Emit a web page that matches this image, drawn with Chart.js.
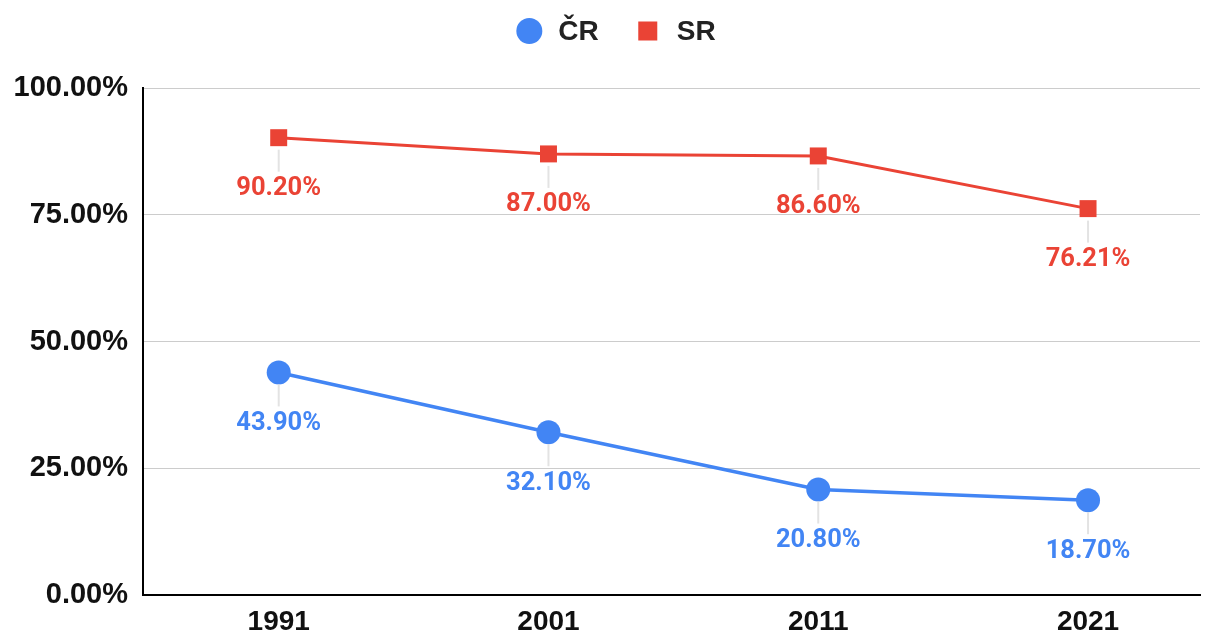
<!DOCTYPE html>
<html lang="en">
<head>
<meta charset="utf-8">
<title>ČR / SR</title>
<script src="https://cdn.jsdelivr.net/npm/chart.js@4.4.0/dist/chart.umd.min.js"></script>
<style>
  html, body { margin: 0; padding: 0; background: #fff; }
  #wrap { width: 1214px; height: 637px; }
</style>
</head>
<body>
<div id="wrap"><canvas id="chart"></canvas></div>
<script>
// data
const years = [1991, 2001, 2011, 2021];
const crValues = [43.9, 32.1, 20.8, 18.7];
const srValues = [90.2, 87.0, 86.6, 76.21];
const crLabels = ['43.90%', '32.10%', '20.80%', '18.70%'];
const srLabels = ['90.20%', '87.00%', '86.60%', '76.21%'];

const BLUE = '#4285F4';
const RED = '#EA4335';

// labels under each point with a short grey leader line
const pointLabels = {
  id: 'pointLabels',
  afterDatasetsDraw(chart) {
    const ctx = chart.ctx;
    chart.data.datasets.forEach((ds, i) => {
      const meta = chart.getDatasetMeta(i);
      meta.data.forEach((pt, j) => {
        const r = ds.pointRadius;
        ctx.save();
        ctx.strokeStyle = '#e3e3e3';
        ctx.lineWidth = 2;
        ctx.beginPath();
        ctx.moveTo(pt.x, pt.y + r);
        ctx.lineTo(pt.x, pt.y + 34);
        ctx.stroke();
        ctx.fillStyle = ds.borderColor;
        ctx.font = 'bold 25.5px Roboto';
        ctx.textAlign = 'center';
        ctx.textBaseline = 'middle';
        ctx.fillText(ds.valueLabels[j], pt.x, pt.y + 51);
        ctx.restore();
      });
    });
  }
};

// legend drawn by hand so the spacing can follow the original
const topLegend = {
  id: 'topLegend',
  afterDraw(chart) {
    const ctx = chart.ctx;
    const cy = 31;
    ctx.save();
    ctx.font = 'bold 28px "Liberation Sans", Arial, sans-serif';
    ctx.textBaseline = 'middle';
    const items = chart.data.datasets.map(ds => ({
      ds, w: 26 + 16 + ctx.measureText(ds.label).width
    }));
    const gap = 36;
    const total = items.reduce((s, it) => s + it.w, 0) + gap * (items.length - 1);
    let x = chart.width / 2 - total / 2 + 9;
    items.forEach(it => {
      const cx = x + 13;
      ctx.fillStyle = it.ds.backgroundColor;
      if (it.ds.pointStyle === 'circle') {
        ctx.beginPath();
        ctx.arc(cx, cy, 13, 0, Math.PI * 2);
        ctx.fill();
      } else {
        ctx.fillRect(cx - 9.5, cy - 9.5, 19, 19);
      }
      ctx.fillStyle = '#222';
      ctx.fillText(it.ds.label, x + 26 + 16, cy + 1);
      x += it.w + gap;
    });
    ctx.restore();
  }
};

new Chart(document.getElementById('chart'), {
  type: 'line',
  data: {
    datasets: [
      {
        label: 'ČR',
        data: years.map((y, i) => ({ x: y, y: crValues[i] })),
        valueLabels: crLabels,
        borderColor: BLUE,
        backgroundColor: BLUE,
        borderWidth: 3.5,
        pointStyle: 'circle',
        pointRadius: 12,
        pointHoverRadius: 12,
        pointBorderWidth: 0
      },
      {
        label: 'SR',
        data: years.map((y, i) => ({ x: y, y: srValues[i] })),
        valueLabels: srLabels,
        borderColor: RED,
        backgroundColor: RED,
        borderWidth: 3,
        pointStyle: 'rect',
        pointRadius: 12,
        pointHoverRadius: 12,
        pointBorderWidth: 0
      }
    ]
  },
  options: {
    responsive: true,
    maintainAspectRatio: false,
    animation: false,
    layout: { padding: { left: 0, right: 14, top: 88, bottom: 0 } },
    plugins: {
      legend: { display: false },
      tooltip: { enabled: false }
    },
    scales: {
      x: {
        type: 'linear',
        min: 1985.97,
        max: 2025.15,
        afterFit: s => { s.height = 42; },
        afterBuildTicks: s => { s.ticks = years.map(v => ({ value: v })); },
        grid: { display: false, drawTicks: false },
        border: { color: '#000', width: 2 },
        ticks: {
          color: '#111',
          padding: 13,
          font: { family: '"Liberation Sans", Arial', size: 28, weight: 'bold', lineHeight: 1 },
          callback: v => String(v)
        }
      },
      y: {
        min: 0,
        max: 100,
        afterFit: s => { s.width = 143; },
        grid: { color: '#cccccc', drawTicks: false },
        border: { color: '#000', width: 2 },
        ticks: {
          stepSize: 25,
          color: '#111',
          padding: 15,
          font: { family: '"Liberation Sans", Arial', size: 29, weight: 'bold' },
          callback: v => v.toFixed(2) + '%'
        }
      }
    }
  },
  plugins: [pointLabels, topLegend]
});
</script>
</body>
</html>
